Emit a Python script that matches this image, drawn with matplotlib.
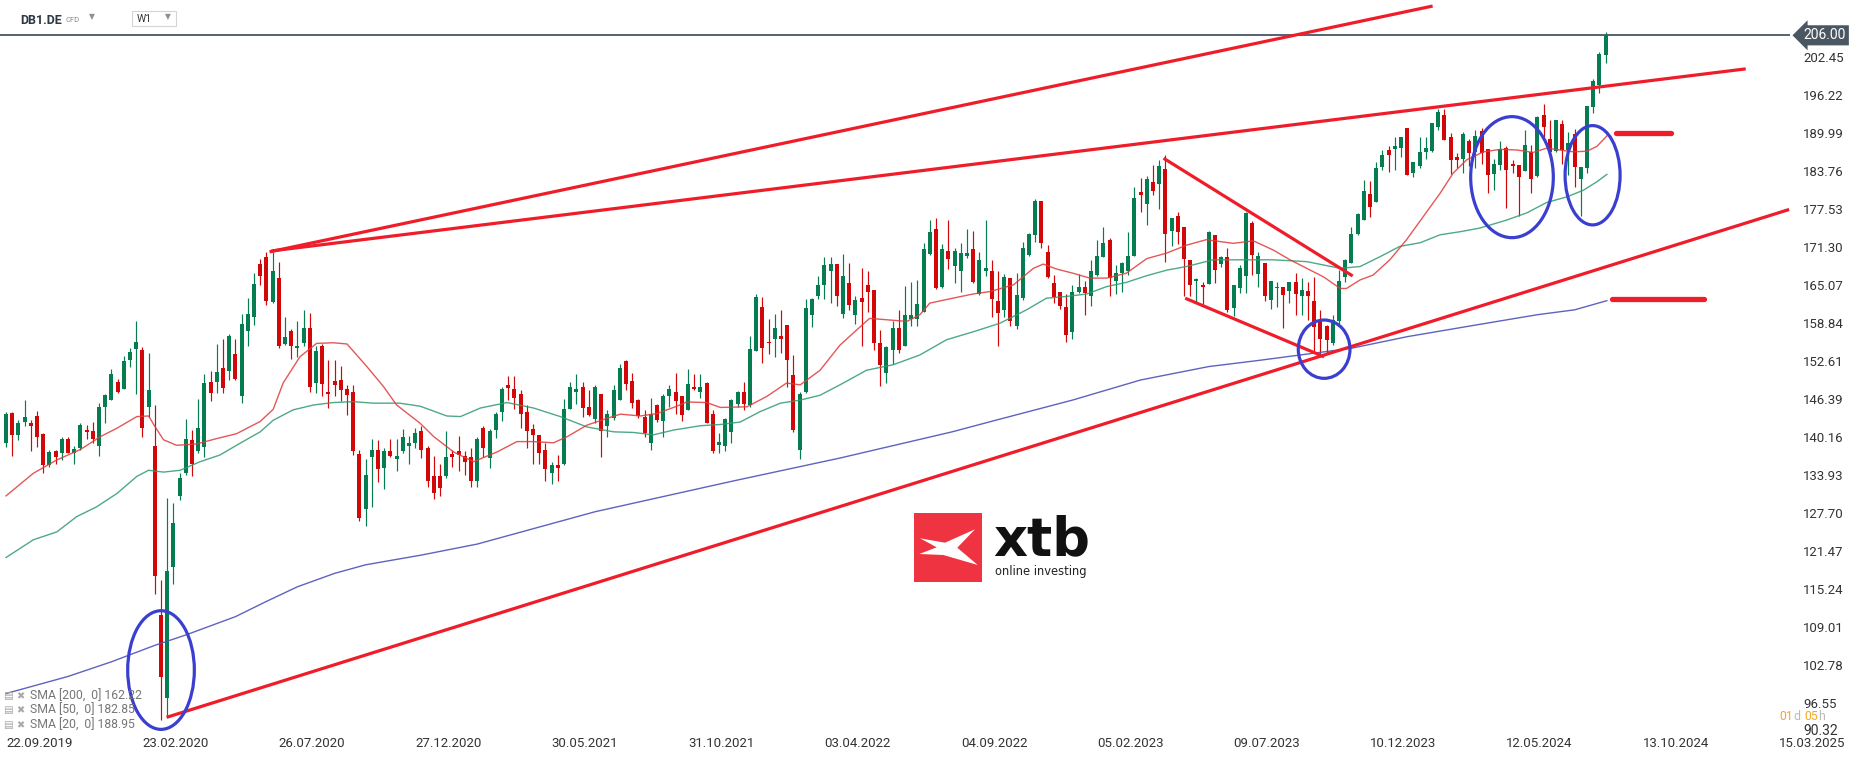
"""Weekly DB1.DE candles with SMA overlays and hand-drawn trend annotations."""
from __future__ import annotations

import matplotlib

matplotlib.use("Agg")
import matplotlib.pyplot as plt
import numpy as np
from matplotlib.patches import Ellipse, Polygon, Rectangle
from matplotlib.transforms import blended_transform_factory

W, H = 1866, 759

# weekly OHLC, one candle per week starting 22.09.2019
OPENS = [
    139.2, 144.1, 140.5, 142.6, 142.5, 143.6, 140.7, 135.6, 137.9, 137.5,
    139.9, 137.6, 138.3, 141.3, 141.1, 138.6, 145.0, 146.2, 149.1, 148.1,
    152.7, 154.5, 154.4, 145.0, 138.7, 111.0, 97.3, 118.9, 130.5, 134.2,
    139.7, 137.8, 138.5, 149.1, 149.2, 151.5, 150.9, 153.8, 146.9, 157.6,
    159.9, 168.5, 169.7, 162.3, 166.2, 155.4, 157.5, 154.7, 155.5, 158.1,
    149.0, 155.0, 147.5, 149.3, 149.5, 148.1, 147.5, 137.4, 128.3, 136.8,
    138.1, 135.0, 137.9, 136.5, 137.9, 138.6, 139.2, 141.2, 138.3, 133.7,
    133.8, 133.8, 137.4, 137.9, 137.0, 136.8, 133.0, 141.6, 136.7, 141.3,
    144.3, 148.7, 148.1, 147.2, 144.3, 141.5, 140.5, 138.0, 134.3, 135.6,
    135.7, 144.7, 147.6, 148.3, 145.0, 143.1, 147.2, 142.0, 143.2, 146.3,
    152.6, 149.3, 146.3, 143.5, 139.1, 145.4, 142.7, 146.8, 147.5, 146.9,
    144.5, 148.3, 147.6, 149.0, 143.9, 138.9, 138.7, 140.9, 145.5, 147.5,
    145.4, 154.3, 161.4, 155.8, 156.2, 156.7, 158.5, 150.3, 138.1, 147.6,
    160.2, 163.2, 165.0, 167.3, 168.5, 160.3, 165.4, 160.2, 163.0, 165.0,
    164.3, 155.6, 150.7, 154.4, 158.1, 155.1, 159.5, 159.5, 160.7, 170.2,
    174.3, 164.8, 170.7, 168.2, 167.4, 169.8, 171.0, 163.6, 167.4, 167.4,
    162.5, 161.0, 166.2, 158.4, 163.0, 170.0, 173.2, 178.9, 170.5, 165.4,
    163.9, 161.4, 157.3, 163.9, 164.7, 163.3, 166.7, 169.6, 172.4, 165.7,
    167.0, 167.4, 169.9, 180.3, 178.3, 181.9, 181.6, 184.1, 173.9, 176.4,
    174.5, 169.2, 165.7, 165.1, 165.2, 173.2, 168.5, 169.6, 161.3, 164.6,
    166.6, 175.2, 166.9, 168.7, 162.6, 164.5, 164.8, 164.1, 165.5, 163.3,
    164.1, 162.5, 159.3, 158.3, 155.6, 159.2, 166.4, 168.6, 173.5, 175.8,
    180.0, 178.7, 184.4, 187.2, 187.3, 187.6, 190.8, 183.4, 184.5, 186.8,
    187.1, 191.0, 193.0, 189.4, 186.0, 185.8, 188.6, 186.9, 190.3, 187.3,
    183.3, 184.8, 187.6, 184.9, 184.8, 183.8, 186.9, 183.0, 192.9, 189.0,
    187.1, 191.5, 187.2, 189.8, 182.5, 184.3, 194.2, 197.9, 202.7,
]
CLOSES = [
    144.0, 140.4, 142.5, 143.4, 142.0, 140.1, 135.6, 137.7, 136.9, 139.8,
    137.6, 138.2, 142.2, 140.9, 139.8, 145.1, 147.0, 150.4, 147.5, 152.6,
    154.1, 155.7, 141.6, 147.9, 117.3, 100.8, 118.2, 126.0, 133.4, 139.8,
    135.8, 141.7, 149.0, 147.3, 150.8, 148.2, 156.7, 149.6, 158.6, 160.3,
    165.2, 166.6, 162.5, 167.4, 155.1, 156.5, 155.1, 155.1, 158.0, 148.3,
    154.3, 148.8, 147.2, 148.6, 147.9, 147.0, 137.9, 126.9, 134.0, 138.1,
    134.9, 137.9, 137.1, 137.0, 140.2, 139.1, 140.8, 138.1, 133.0, 131.0,
    131.8, 136.9, 136.9, 137.2, 136.0, 133.0, 139.9, 138.3, 141.2, 144.0,
    148.1, 148.2, 146.6, 144.0, 141.2, 140.5, 137.5, 134.9, 135.6, 135.1,
    144.7, 148.3, 148.1, 144.9, 143.7, 148.3, 141.1, 143.9, 147.8, 151.4,
    148.9, 145.7, 143.6, 140.8, 144.0, 142.9, 146.9, 148.0, 146.1, 143.7,
    148.9, 148.0, 148.3, 142.5, 137.8, 139.3, 143.1, 146.2, 147.5, 145.6,
    154.6, 163.1, 154.8, 155.5, 158.1, 156.3, 152.7, 141.3, 147.2, 161.3,
    162.7, 165.1, 168.4, 168.5, 163.3, 166.6, 161.8, 162.6, 162.3, 164.0,
    155.6, 152.0, 154.9, 158.0, 154.4, 160.1, 160.1, 162.0, 171.0, 173.8,
    164.5, 170.9, 169.3, 170.7, 170.3, 170.3, 165.6, 169.2, 167.9, 162.8,
    160.5, 166.3, 159.2, 163.4, 171.1, 173.4, 178.9, 172.0, 166.3, 163.1,
    161.7, 156.9, 163.9, 164.7, 163.7, 167.3, 169.8, 171.9, 166.2, 167.0,
    168.6, 169.9, 179.3, 179.9, 182.5, 180.5, 184.6, 173.5, 176.0, 173.8,
    169.3, 165.1, 166.1, 164.7, 173.8, 167.6, 169.6, 161.0, 165.1, 167.8,
    176.8, 170.0, 169.8, 163.2, 165.7, 164.8, 163.5, 165.5, 163.6, 164.3,
    163.2, 158.2, 156.2, 156.1, 159.3, 165.8, 169.2, 173.5, 176.7, 180.4,
    177.8, 184.2, 186.4, 186.4, 187.8, 189.3, 183.1, 185.3, 186.8, 187.6,
    191.7, 193.4, 188.9, 185.6, 185.5, 189.8, 186.7, 189.5, 186.7, 183.1,
    184.9, 187.3, 183.9, 184.5, 182.8, 188.0, 182.4, 192.6, 190.9, 186.9,
    192.2, 187.2, 188.4, 184.4, 184.4, 194.4, 198.5, 203.0, 206.0,
]
HIGHS = [
    144.3, 144.3, 142.9, 146.3, 142.9, 144.4, 140.8, 138.1, 138.1, 140.2,
    140.2, 138.6, 142.4, 142.1, 142.6, 145.8, 147.2, 151.3, 149.6, 153.4,
    154.7, 159.2, 154.9, 154.0, 145.4, 116.7, 130.1, 129.3, 134.2, 143.1,
    141.3, 146.4, 150.4, 150.9, 155.4, 156.3, 157.0, 156.2, 160.3, 162.9,
    167.0, 169.3, 170.5, 170.4, 168.9, 159.9, 157.8, 159.2, 160.9, 160.5,
    155.0, 155.4, 152.8, 152.8, 151.8, 148.7, 148.6, 138.1, 136.5, 139.8,
    139.7, 138.3, 139.8, 139.9, 141.4, 140.3, 141.6, 141.9, 138.6, 137.0,
    135.7, 141.1, 138.0, 140.3, 137.9, 138.3, 140.2, 141.9, 141.5, 144.2,
    148.4, 150.1, 150.2, 147.8, 145.4, 142.3, 140.5, 139.1, 136.1, 137.2,
    146.4, 149.1, 150.5, 149.1, 147.8, 148.7, 147.2, 144.6, 148.6, 152.1,
    152.8, 150.6, 146.4, 144.6, 146.6, 145.6, 147.2, 148.6, 150.6, 146.9,
    151.3, 150.4, 150.5, 149.2, 144.5, 140.8, 143.2, 146.4, 147.7, 149.1,
    156.7, 163.6, 163.1, 159.5, 160.3, 160.9, 158.5, 153.6, 147.6, 162.7,
    163.0, 166.6, 169.7, 169.6, 168.5, 170.2, 168.6, 163.2, 167.9, 167.4,
    164.3, 157.7, 155.1, 159.2, 161.0, 164.9, 165.6, 165.9, 171.9, 175.8,
    176.0, 171.8, 175.8, 171.1, 171.9, 174.2, 173.9, 170.5, 175.8, 169.1,
    167.3, 166.8, 166.2, 167.0, 172.2, 173.6, 179.2, 178.9, 171.6, 166.7,
    163.9, 163.6, 165.1, 166.9, 165.8, 169.2, 172.5, 174.5, 172.7, 168.4,
    168.9, 173.7, 181.1, 182.6, 183.0, 184.7, 185.6, 186.4, 176.1, 177.0,
    174.6, 169.2, 166.2, 165.6, 173.9, 173.2, 169.8, 171.1, 165.1, 168.4,
    177.1, 175.5, 170.5, 168.7, 165.7, 165.6, 164.8, 165.6, 167.1, 166.2,
    165.6, 166.4, 161.0, 158.5, 160.2, 167.5, 169.4, 174.6, 176.8, 182.3,
    182.2, 185.3, 187.2, 187.9, 189.3, 189.3, 190.8, 185.3, 189.3, 189.3,
    191.7, 194.0, 194.0, 190.0, 186.7, 190.1, 189.0, 190.4, 190.8, 187.3,
    185.7, 188.6, 187.9, 185.6, 184.8, 190.5, 188.0, 192.7, 194.7, 192.2,
    192.2, 192.2, 190.1, 190.6, 184.4, 194.4, 198.8, 203.3, 206.5,
]
LOWS = [
    138.5, 137.1, 139.6, 141.9, 137.9, 138.5, 134.2, 135.3, 135.7, 136.4,
    137.5, 135.7, 138.0, 139.8, 139.1, 137.0, 142.4, 146.2, 147.3, 148.1,
    151.6, 147.2, 140.1, 143.5, 114.4, 93.8, 94.3, 116.1, 129.8, 134.0,
    133.8, 137.5, 136.9, 146.0, 147.4, 147.3, 149.5, 149.5, 145.7, 155.0,
    158.5, 165.1, 161.8, 162.1, 154.7, 155.2, 152.9, 153.2, 155.1, 147.6,
    147.3, 146.8, 144.9, 146.9, 146.0, 143.8, 137.2, 126.4, 125.6, 128.7,
    132.8, 131.7, 136.8, 134.6, 137.5, 135.7, 138.3, 136.7, 132.0, 130.0,
    130.5, 133.4, 135.3, 134.5, 133.9, 132.0, 132.0, 136.9, 135.0, 140.0,
    142.8, 146.3, 144.7, 141.7, 138.4, 135.8, 135.8, 133.0, 132.5, 133.0,
    135.6, 144.7, 145.5, 143.5, 143.6, 142.4, 136.9, 140.1, 142.9, 146.2,
    147.8, 144.9, 143.2, 140.2, 138.1, 142.6, 140.1, 145.1, 144.0, 142.7,
    144.5, 147.8, 146.5, 142.4, 137.6, 137.6, 137.9, 139.2, 145.0, 144.5,
    145.1, 154.2, 152.3, 153.8, 153.2, 154.0, 148.3, 141.0, 136.5, 147.4,
    158.2, 162.7, 162.7, 162.2, 161.7, 159.6, 161.0, 158.7, 155.0, 160.7,
    154.4, 148.5, 149.0, 152.2, 154.0, 155.0, 158.3, 158.4, 160.7, 170.0,
    164.4, 164.6, 167.7, 165.4, 164.0, 169.5, 165.4, 163.4, 166.6, 159.9,
    155.1, 159.9, 158.3, 157.9, 162.6, 169.8, 172.2, 171.1, 166.2, 162.2,
    161.1, 155.8, 156.3, 163.7, 160.2, 161.6, 166.6, 169.6, 163.3, 163.6,
    164.0, 166.7, 169.9, 177.0, 174.9, 179.8, 177.5, 168.9, 171.4, 171.8,
    163.2, 163.2, 162.2, 161.8, 165.2, 165.4, 168.1, 160.7, 160.0, 163.8,
    163.7, 166.7, 164.8, 162.5, 161.2, 161.5, 158.1, 162.1, 160.2, 160.2,
    159.3, 153.9, 153.3, 154.0, 155.2, 158.7, 165.5, 168.6, 173.3, 175.7,
    176.2, 178.7, 183.9, 183.6, 184.0, 186.1, 183.1, 182.8, 184.2, 185.8,
    186.9, 190.4, 188.9, 183.3, 184.2, 183.4, 184.5, 184.2, 184.9, 180.2,
    180.6, 184.0, 177.7, 183.4, 176.3, 183.7, 180.1, 182.8, 189.4, 186.2,
    186.9, 184.9, 183.1, 181.2, 176.4, 183.4, 193.3, 196.5, 201.4,
]

# moving averages as (candle index, value) samples
SMA20_X = [0, 4.4, 8.2, 12, 15.2, 17.9, 21.1, 23, 24, 25.4, 27.5, 30.7, 34, 37.2, 41, 43.1,
           44.7, 47.4, 50.1, 52.8, 55, 58.2, 60.9, 63, 66.8, 69, 72.2, 75.4, 79.2, 82.4,
           85.1, 88.3, 90.5, 93.7, 96.9, 99.1, 102.3, 105, 108.2, 109.8, 113, 115.2, 119.5,
           122.7, 125.9, 128.1, 131.3, 134.5, 137.2, 139.3, 145.3, 147.4, 149, 152.2, 156,
           158.7, 162.5, 165.7, 167.3, 169.4, 172.1, 174.8, 177.5, 180.7, 184, 187.2, 190.4,
           193.6, 197.9, 201.2, 204.4, 207.1, 209.8, 212.5, 215.2, 216.2, 218.4, 220.5,
           223.2, 225.9, 228.6, 231.3, 233.4, 235.6, 238.3, 241, 243.7, 246.3, 248.5, 250.6,
           252.8, 255, 256.6, 258.2]
SMA20_Y = [130.5, 134.2, 136.4, 138.1, 140.2, 141.6, 143.5, 143.6, 141.9, 139.7, 138.8, 139.0,
           139.9, 140.7, 142.7, 144.7, 149.0, 153.3, 155.5, 155.6, 155.4, 151.7, 148.4, 145.4,
           142.4, 140.2, 137.7, 136.1, 137.7, 139.4, 139.4, 139.2, 140.2, 142.1, 143.2, 143.9,
           143.6, 144.0, 145.2, 145.9, 145.8, 145.0, 145.1, 146.8, 149.0, 148.7, 151.1, 155.2,
           157.7, 159.6, 159.1, 160.2, 162.1, 162.8, 163.6, 164.0, 165.1, 167.8, 168.5, 167.7,
           167.0, 166.2, 166.2, 167.0, 169.4, 170.3, 171.6, 172.5, 171.9, 172.3, 170.8, 169.2,
           167.8, 166.4, 164.5, 164.5, 165.9, 166.7, 169.2, 172.5, 176.3, 180.1, 183.4, 185.6,
           186.9, 187.3, 187.2, 186.8, 187.5, 187.2, 186.9, 187.0, 187.8, 189.5]
SMA50_X = [0, 4.4, 8.2, 11.4, 14.6, 17.9, 21.1, 23, 25.4, 28.1, 31.3, 34.5, 37.7, 41, 43.1,
           46.3, 49.6, 52.8, 56, 59.2, 63.5, 66.8, 71.1, 73.3, 76.5, 80.8, 85.1, 89.4, 93.7,
           98, 101.2, 104.4, 107.7, 112, 115.2, 118.4, 121.6, 124.9, 128.1, 131.3, 134.5,
           138.8, 143.1, 147.4, 151.7, 156, 160.3, 164.6, 167.8, 171.1, 174.3, 177.5, 180.7,
           184, 187.2, 190.4, 194.7, 199, 204.4, 209.8, 215.2, 218.4, 221.6, 224.8, 228.1,
           231.3, 234.5, 237.7, 242, 245.3, 248.5, 251.7, 254.4, 256.6, 258.2]
SMA50_Y = [120.4, 123.3, 124.6, 127.1, 128.7, 130.9, 133.7, 134.7, 134.4, 134.7, 136.1, 137.2,
           139.1, 141.0, 142.9, 144.6, 145.4, 145.8, 145.95, 145.7, 145.7, 145.2, 143.6, 143.5,
           144.9, 145.8, 144.9, 143.5, 141.8, 141.0, 140.9, 140.5, 141.3, 142.0, 142.2, 142.6,
           144.3, 145.7, 146.2, 147.0, 148.7, 151.1, 152.0, 153.6, 156.1, 157.4, 158.8, 161.0,
           162.9, 163.2, 163.6, 164.8, 165.5, 166.6, 167.5, 168.1, 169.2, 169.2, 169.2, 168.9,
           167.8, 168.1, 169.7, 171.4, 172.0, 173.3, 173.8, 174.4, 175.7, 176.9, 178.6, 179.5,
           180.6, 182.0, 183.2]
SMA200_X = [0, 10, 17, 24, 29, 37, 42, 47, 53, 58, 67, 76, 95, 114, 118, 134.5, 152.6, 160,
            172, 183, 194, 202, 217, 226, 237, 247, 253, 258.2]
SMA200_Y = [98.1, 100.9, 103.3, 106.0, 107.7, 110.7, 113.2, 115.6, 117.8, 119.2, 120.8, 122.6,
            127.9, 132.2, 133.1, 136.7, 141.0, 143.0, 146.2, 149.5, 151.7, 152.7, 154.7, 156.6,
            158.5, 160.2, 161.0, 162.5]

PRICE_TICKS = [202.45, 196.22, 189.99, 183.76, 177.53, 171.30, 165.07, 158.84, 152.61, 146.39,
               140.16, 133.93, 127.70, 121.47, 115.24, 109.01, 102.78, 96.55]
DATE_LABELS = ["22.09.2019", "23.02.2020", "26.07.2020", "27.12.2020", "30.05.2021",
               "31.10.2021", "03.04.2022", "04.09.2022", "05.02.2023", "09.07.2023",
               "10.12.2023", "12.05.2024", "13.10.2024", "15.03.2025"]
LEGEND_ROWS = ["SMA [200,  0] 162.22", "SMA [50,  0] 182.85", "SMA [20,  0] 188.95"]
LAST_PRICE = 206.00
COUNTDOWN = [("01", "#f5a623"), ("d", "#b9b9b9"), ("05", "#f5a623"), ("h", "#b9b9b9")]

# hand-drawn annotations in (candle index, price)
TREND_LINES = [
    ((42.5, 170.5), (230.1, 210.8)),
    ((42.8, 170.65), (280.6, 200.5)),
    ((25.9, 94.2), (287.6, 177.45)),
    ((186.7, 185.85), (217.2, 166.55)),
    ((190.2, 162.9), (212.6, 153.3)),
]
LEVEL_MARKS = [((259.6, 268.5), 189.94), ((259.0, 273.9), 162.8)]
ELLIPSES = [
    (25.0, 101.95, 10.75, 19.45),
    (212.6, 154.55, 8.34, 9.56),
    (242.9, 182.75, 13.33, 19.84),
    (255.9, 183.06, 8.87, 16.28),
]

GREEN = "#067d50"
RED = "#d20808"
LINE_RED = "#ef1d2a"
ELLIPSE_BLUE = "#3a3fd0"
NARROW = ["Liberation Sans Narrow", "Roboto", "DejaVu Sans"]


def px(x: float, y: float) -> tuple[float, float]:
    return x / W, 1 - y / H


def draw_candles(ax) -> None:
    o, c = np.array(OPENS), np.array(CLOSES)
    hi, lo = np.array(HIGHS), np.array(LOWS)
    x = np.arange(len(c))
    colors = np.where(c >= o, GREEN, RED)
    ax.vlines(x, lo, hi, colors=colors, linewidth=0.85, zorder=3)
    ax.bar(x, np.maximum(np.abs(c - o), 0.3), 0.64, bottom=np.minimum(o, c),
           color=colors, linewidth=0, zorder=4)


def draw_annotations(ax) -> None:
    for (x0, y0), (x1, y1) in TREND_LINES:
        ax.plot([x0, x1], [y0, y1], color=LINE_RED, lw=2.3, solid_capstyle="butt", zorder=6)
    for (x0, x1), level in LEVEL_MARKS:
        ax.plot([x0, x1], [level, level], color=LINE_RED, lw=3.8, solid_capstyle="round", zorder=6)
    for cx, cy, w, h in ELLIPSES:
        ax.add_patch(Ellipse((cx, cy), w, h, fill=False, ec=ELLIPSE_BLUE, lw=2.3, zorder=7))


def draw_chrome(fig, ax) -> None:
    # toolbar
    fig.text(*px(20, 20), "DB1.DE", fontsize=9, fontweight="bold", color="#2e3944", va="center")
    fig.text(*px(65, 20.5), "CFD", fontsize=5.5, color="#8a8a8a", va="center")
    fig.text(*px(89, 17), "▼", fontsize=5.5, color="#8f8f8f", va="center", family="DejaVu Sans")
    fig.patches.append(Rectangle(px(132.3, 25.7), 43.4 / W, 15 / H, transform=fig.transFigure,
                                 fc="white", ec="#d4d4d4", lw=0.8))
    fig.text(*px(137, 19.5), "W1", fontsize=7.5, color="#333333", va="center")
    fig.text(*px(165, 17), "▼", fontsize=5.5, color="#8f8f8f", va="center", family="DejaVu Sans")

    # last price line and flag
    ax.axhline(LAST_PRICE, color="#4b5663", lw=1.3, zorder=2)
    trans = blended_transform_factory(ax.transAxes, ax.transData)
    ax.text(1.0075, LAST_PRICE, f"{LAST_PRICE:.2f}", transform=trans, va="center", ha="left",
            color="white", fontsize=10, clip_on=False,
            bbox=dict(boxstyle="larrow,pad=0.22", fc="#4b5663", ec="none"))
    ax.text(1.0075, 0.003, "90.32", transform=ax.transAxes, va="center", ha="left",
            color="#333333", fontsize=10, clip_on=False)

    # SMA legend
    for row, label in enumerate(LEGEND_ROWS):
        y = 696 + row * 14.5
        fig.text(*px(3, y), "▤", fontsize=7.5, color="#a8a8a8", va="center", family="DejaVu Sans")
        fig.text(*px(16, y), "✖", fontsize=7, color="#a8a8a8", va="center", family="DejaVu Sans")
        fig.text(*px(30, y), label, fontsize=8.8, color="#777777", va="center", family=NARROW)

    # logo
    fig.patches.append(Rectangle(px(914.3, 581.7), 67.4 / W, 69 / H, transform=fig.transFigure,
                                 fc="#ef3340", ec="none", zorder=1))
    mark = [(920, 538.3), (945, 542.7), (975, 529.3), (957.3, 547.7), (977.7, 565),
            (943.3, 555), (919.3, 554), (936.7, 547.3)]
    fig.patches.append(Polygon([px(a, b) for a, b in mark], closed=True, transform=fig.transFigure,
                               fc="white", ec="none", zorder=2))
    fig.text(*px(993, 555), "xtb", fontsize=38, fontweight="bold", color="#111111",
             va="baseline", family="DejaVu Sans")
    fig.text(*px(995, 575), "online investing", fontsize=8.3, color="#222222",
             va="baseline", family="DejaVu Sans")


def draw_countdown(fig) -> None:
    # pieces placed one after another using their rendered widths
    renderer = fig.canvas.get_renderer()
    x = 1779.0
    for n, (part, color) in enumerate(COUNTDOWN):
        t = fig.text(*px(x, 717), part, color=color, fontsize=8.8, va="center")
        x += t.get_window_extent(renderer).width + (4 if n == 1 else 0.5)


def main() -> None:
    plt.rcParams["font.family"] = ["Roboto", "DejaVu Sans"]
    fig = plt.figure(figsize=(W / 100, H / 100), dpi=100)
    ax = fig.add_axes([0, 26 / H, 1790 / W, 733 / H])
    ax.set_xlim(-0.97, 287.74)
    ax.set_ylim(91.63, 211.79)
    for spine in ax.spines.values():
        spine.set_visible(False)

    draw_candles(ax)
    ax.plot(SMA200_X, SMA200_Y, color="#4c52b8", lw=1.0, alpha=0.9, zorder=5)
    ax.plot(SMA50_X, SMA50_Y, color="#2f9a70", lw=1.0, alpha=0.85, zorder=5)
    ax.plot(SMA20_X, SMA20_Y, color="#e03a3a", lw=1.0, alpha=0.85, zorder=5)
    draw_annotations(ax)

    ax.yaxis.tick_right()
    ax.set_yticks(PRICE_TICKS, [f"{v:.2f}" for v in PRICE_TICKS])
    ax.tick_params(axis="y", length=0, pad=9.5, labelsize=9.5, labelcolor="#333333")
    ax.set_xticks(np.arange(len(DATE_LABELS)) * 22, DATE_LABELS)
    for label in ax.get_xticklabels():
        label.set_horizontalalignment("left")
        label.set_family(NARROW)
    ax.tick_params(axis="x", length=0, pad=3, labelsize=9.5, labelcolor="#333333")

    draw_chrome(fig, ax)
    fig.canvas.draw()
    draw_countdown(fig)
    fig.savefig("out.png", dpi=100, facecolor="white")
    plt.close(fig)


if __name__ == "__main__":
    main()
